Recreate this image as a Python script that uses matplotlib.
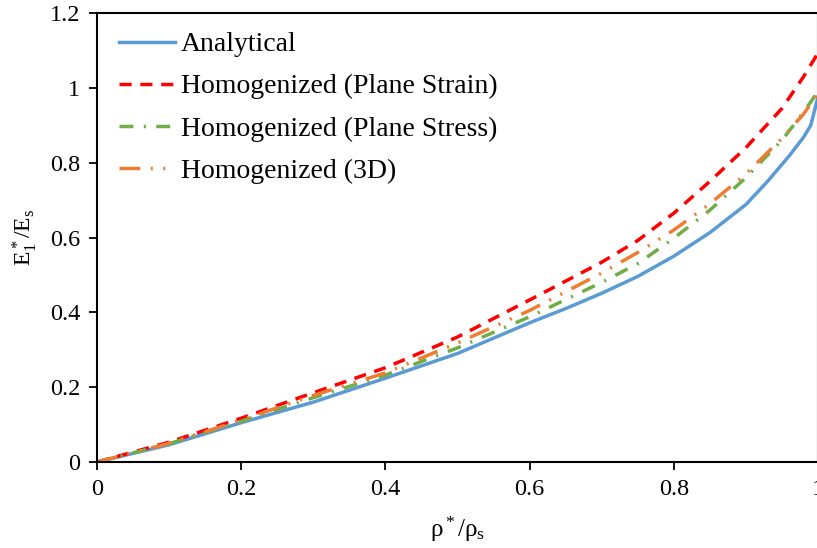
import numpy as np
import matplotlib
matplotlib.use('Agg')
import matplotlib.pyplot as plt

plt.rcParams['font.family'] = ['Liberation Serif', 'DejaVu Serif']
plt.rcParams['mathtext.fontset'] = 'custom'
plt.rcParams['mathtext.rm'] = 'Liberation Serif'
plt.rcParams['mathtext.it'] = 'Liberation Serif:italic'

# values
x_an = [0, 0.1, 0.2, 0.3, 0.4, 0.5, 0.6, 0.65, 0.7, 0.75, 0.8, 0.85, 0.9, 0.93, 0.96, 0.98, 0.99, 1.0]
y_an = [0, 0.046, 0.105, 0.16, 0.224, 0.29, 0.372, 0.41, 0.451, 0.496, 0.55, 0.613, 0.688, 0.75, 0.818, 0.868, 0.9, 0.976]

x_ps = [0, 0.1, 0.2, 0.3, 0.4, 0.5, 0.6, 0.7, 0.75, 0.8, 0.85, 0.9, 0.95, 0.98, 1.0]
y_ps = [0, 0.053, 0.117, 0.185, 0.252, 0.334, 0.433, 0.534, 0.592, 0.665, 0.75, 0.84, 0.945, 1.03, 1.093]

x_st = [0, 0.1, 0.2, 0.3, 0.4, 0.5, 0.6, 0.7, 0.75, 0.8, 0.85, 0.9, 0.95, 0.98, 1.0]
y_st = [0, 0.049, 0.109, 0.172, 0.232, 0.305, 0.388, 0.48, 0.53, 0.598, 0.673, 0.76, 0.86, 0.935, 0.99]

x_3d = [0, 0.1, 0.2, 0.3, 0.4, 0.5, 0.6, 0.7, 0.75, 0.8, 0.85, 0.9, 0.95, 0.98, 1.0]
y_3d = [0, 0.05, 0.112, 0.178, 0.238, 0.318, 0.405, 0.505, 0.56, 0.62, 0.69, 0.77, 0.865, 0.93, 0.985]

fig = plt.figure(figsize=(8.17, 5.48), dpi=100)
ax = fig.add_axes([97 / 817, 86 / 548, 721 / 817, 449 / 548])

ax.plot(x_an, y_an, color='#5B9BD5', lw=2.5, label='Analytical')
ax.plot(x_ps, y_ps, color='#FF0000', lw=2.5, dashes=(3.5, 2.5), label='Homogenized (Plane Strain)')
ax.plot(x_st, y_st, color='#70AD47', lw=2.5, dashes=(4, 3, 0.6, 3), label='Homogenized (Plane Stress)')
ax.plot(x_3d, y_3d, color='#ED7D31', lw=2.5, dashes=(6, 3, 0.6, 3, 0.6, 3), label='Homogenized (3D)')

ax.set_xlim(0, 1)
ax.set_ylim(0, 1.2)
ax.set_xticks(np.arange(0, 1.01, 0.2))
ax.set_xticklabels(['0', '0.2', '0.4', '0.6', '0.8', '1'])
ax.set_yticks(np.arange(0, 1.21, 0.2))
ax.set_yticklabels(['0', '0.2', '0.4', '0.6', '0.8', '1', '1.2'])
ax.tick_params(direction='out', length=6, width=1.3, labelsize=17.5, pad=6)
for s in ax.spines.values():
    s.set_linewidth(1.5)

ax.set_xlabel(r'ρ$^*$/ρ$_\mathrm{s}$', fontsize=18, labelpad=11)
ax.set_ylabel(r'E$_1^*$/E$_\mathrm{s}$', fontsize=17, labelpad=8)

ax.legend(loc='upper left', frameon=False, fontsize=20, handlelength=2.0,
          handletextpad=0.2, labelspacing=0.6, borderaxespad=0.2,
          bbox_to_anchor=(0.008, 0.995))

fig.savefig('out.png', dpi=100)
